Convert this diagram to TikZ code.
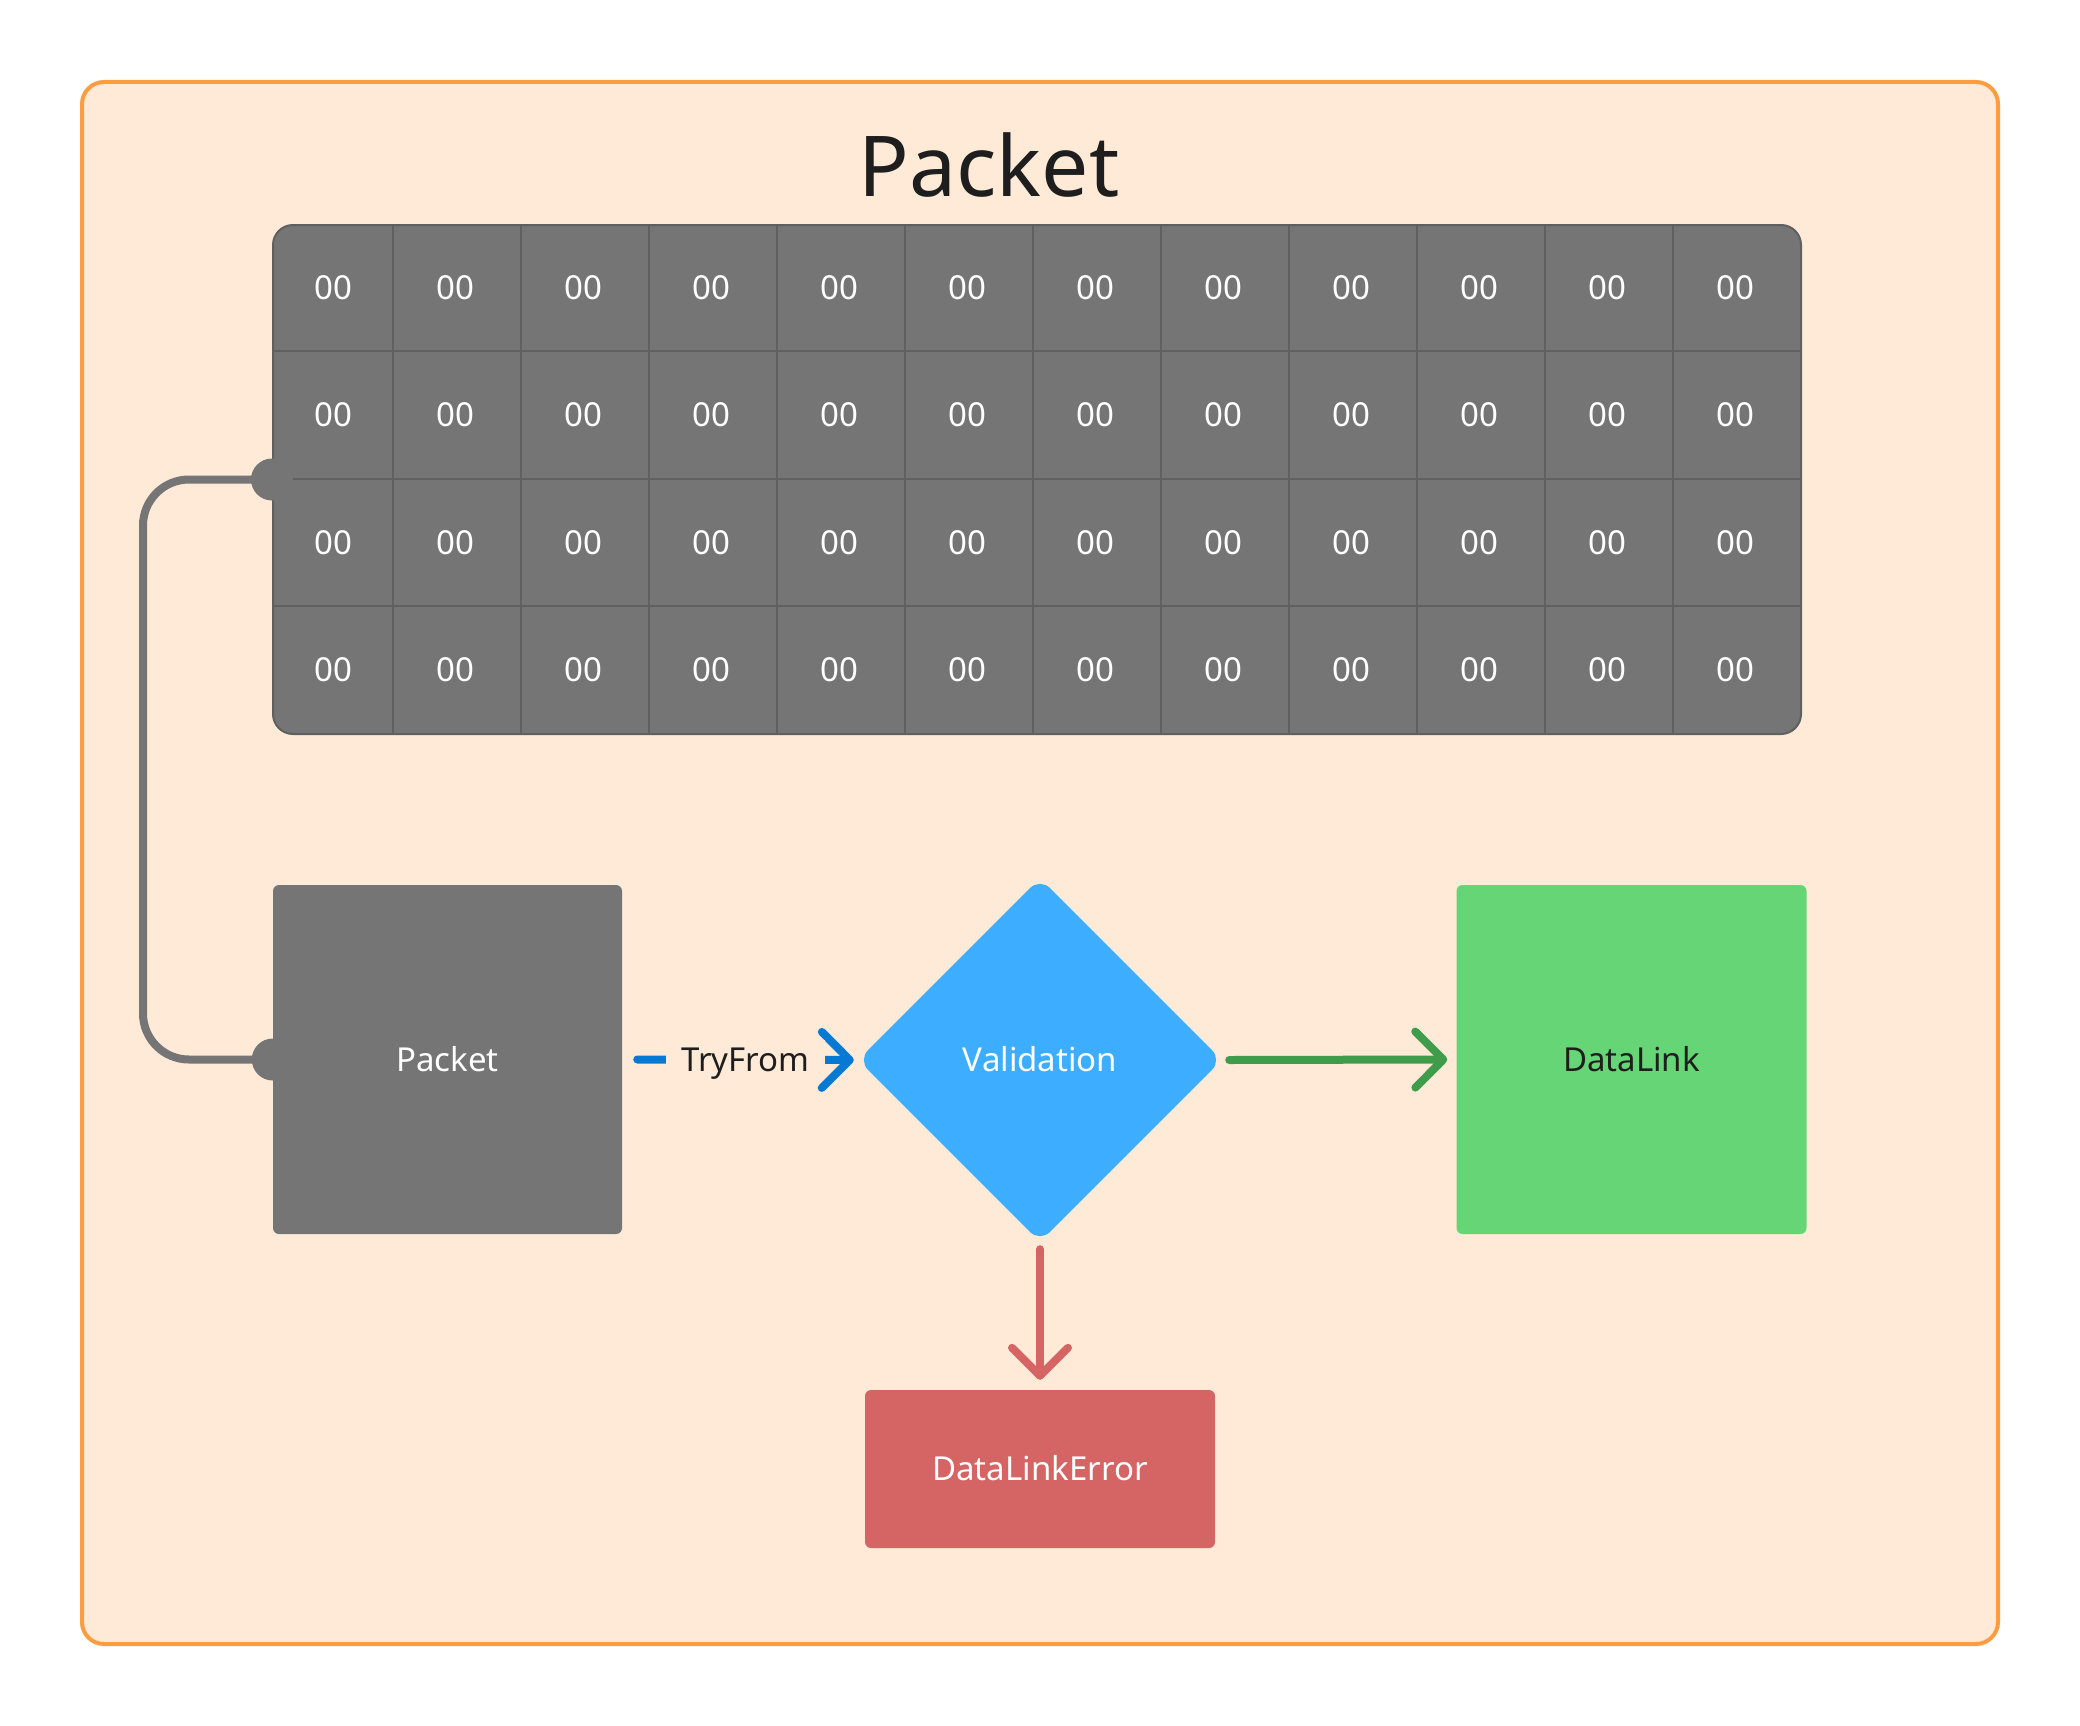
\documentclass[tikz,border=0pt]{standalone}
\usepackage{fontspec}
\setmainfont{Noto Sans}
\usetikzlibrary{arrows.meta,shapes.geometric}
\definecolor{framefill}{HTML}{FEEAD7}
\definecolor{frameline}{HTML}{FD9D42}
\definecolor{gridfill}{HTML}{757575}
\definecolor{gridline}{HTML}{606060}
\definecolor{bluearrow}{HTML}{0679D4}
\definecolor{diamondfill}{HTML}{3DADFF}
\definecolor{greenarrow}{HTML}{3E9C4B}
\definecolor{greenfill}{HTML}{66D575}
\definecolor{redfill}{HTML}{D46564}
\definecolor{darktext}{HTML}{1E1E1E}
\tikzset{
  lbl/.style={font=\fontsize{33pt}{39pt}\selectfont, text height=23pt, text depth=0pt, inner sep=0pt},
  cell/.style={lbl, text=white},
  box/.style={rectangle, rounded corners=6pt, minimum width=349pt, minimum height=349pt, inner sep=0pt},
  flow/.style={line width=8pt, line cap=round, -{Straight Barb[length=28pt,width=56pt,round]}},
  gconn/.style={line width=8pt, draw=gridfill, rounded corners=46pt},
  gridrule/.style={draw=gridline, line width=2.5pt},
}
\begin{document}
\begin{tikzpicture}[x=1pt,y=-1pt]
\useasboundingbox (0,0) rectangle (2080,1726);
\fill[white] (0,0) rectangle (2080,1726);
% frame
\node[draw=frameline, fill=framefill, line width=4pt, rounded corners=22pt,
      minimum width=1916pt, minimum height=1562pt, inner sep=0pt] (frame) at (1040,863) {};
\node[anchor=base, font=\fontsize{84pt}{100pt}\selectfont, text=darktext, inner sep=0pt] (title) at (989,196) {Packet};
% grid
\node[draw=gridline, fill=gridfill, line width=2pt, rounded corners=20pt,
      minimum width=1528pt, minimum height=509pt, inner sep=0pt] (grid) at (1037,479.5) {};
\foreach \x in {393,521,649,777,905,1033,1161,1289,1417,1545,1673}
  \draw[gridrule] (\x,225) -- (\x,734);
\foreach \y in {351,479,606}
  \draw[gridrule] (274,\y) -- (1800,\y);
\foreach \r/\y in {1/288,2/415,3/543,4/670}{
  \node[cell] (c\r-1) at (333,\y) {00};
  \foreach \c in {2,...,12}{
    \node[cell] (c\r-\c) at ({455+128*(\c-2)},\y) {00};
  }
}
% boxes
\node[box, fill=gridfill, text=white, lbl] (packet) at (447.5,1059.5) {Packet};
\node[diamond, fill=diamondfill, minimum width=364pt, minimum height=364pt, inner sep=0pt,
      rounded corners=14pt, text=white, lbl] (valid) at (1040,1060) {Validation};
\node[box, fill=greenfill, text=darktext, lbl, minimum width=350pt] (datalink) at (1631.5,1059.5) {DataLink};
\node[rectangle, rounded corners=6pt, fill=redfill, minimum width=350pt, minimum height=158pt,
      text=white, lbl] (error) at (1040,1469) {DataLinkError};
% gray connector
\draw[gconn] (grid.west) -- ++(-129,0) |- (packet.west);
\fill[gridfill] (grid.west) circle[radius=21pt];
\fill[gridfill] (packet.west) circle[radius=21pt];
% arrows
\draw[flow, draw=bluearrow] ([xshift=15pt]packet.east) --
  node[lbl, fill=framefill, text=darktext, inner xsep=15pt, inner ysep=8pt] (tryfrom) {TryFrom}
  ([xshift=-4pt]valid.west);
\draw[flow, draw=greenarrow] ([xshift=7pt]valid.east) -- ([xshift=-9pt]datalink.west);
\draw[flow, draw=redfill] ([yshift=-7pt]valid.south) -- ([yshift=10pt]error.north);
\end{tikzpicture}
\end{document}
